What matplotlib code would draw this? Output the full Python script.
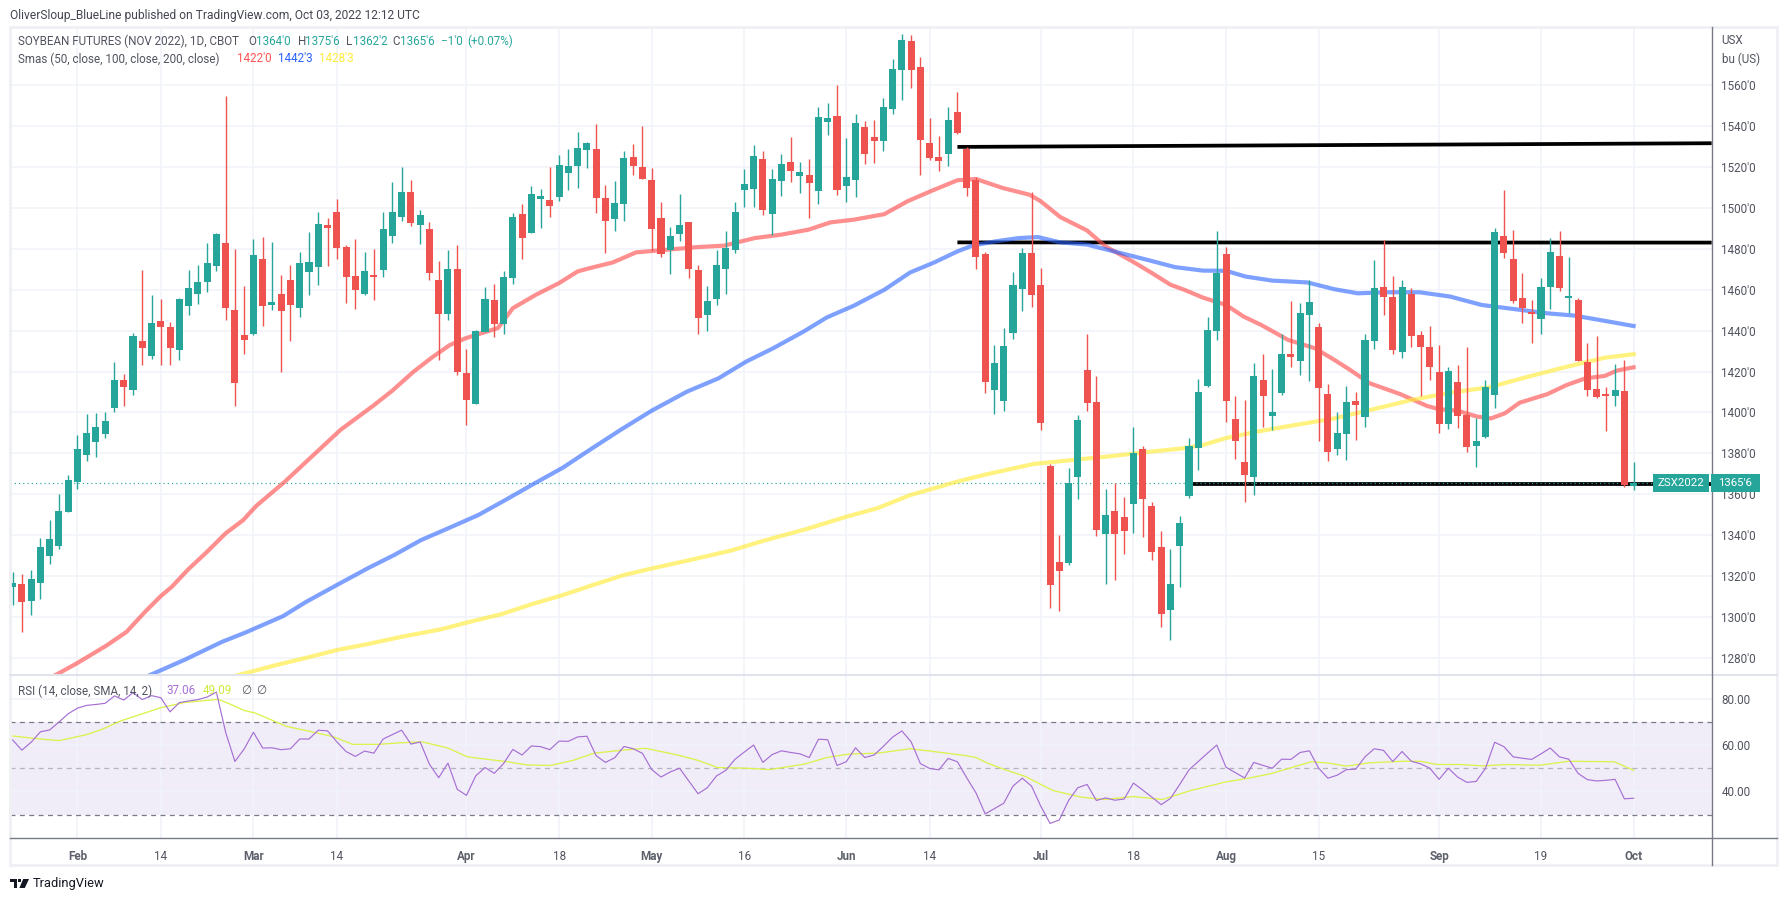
import matplotlib
matplotlib.use("Agg")
import matplotlib.pyplot as plt
from matplotlib.patches import Rectangle, Polygon, Circle

W, H = 1787, 899
plt.rcParams['font.family'] = ['Roboto', 'DejaVu Sans']

opens = [1314.8,1316,1307.9,1316.7,1330,1334.7,1351.3,1366,1379.2,1385.6,1389.5,1402.2,1415.9,1411,1435,1427.7,1444.9,1441.9,1430.6,1452.2,
1458.1,1464,1471.8,1483,1450.3,1438,1438.5,1475.2,1452.7,1458.1,1465,1451.2,1468.9,1471.3,1491.9,1498.2,1481.1,1466.9,1458.1,1467.4,
1469.8,1486.5,1495.8,1508,1491.9,1489.9,1465,1448.3,1470.3,1419.4,1404.2,1439.5,1455.2,1443.4,1465.9,1497.3,1488,1504.6,1504.1,1505.6,
1517.3,1520.7,1528.6,1529,1505,1494.8,1502.1,1525.1,1520.2,1513.9,1495.3,1479.6,1487.5,1493.3,1469.8,1447.8,1455.6,1470.3,1479.6,1509,
1509.5,1524.2,1497.2,1513.4,1522.7,1515.8,1516.3,1508.5,1542.3,1545.2,1510.9,1513.9,1539.8,1534.9,1533,1548.6,1567.7,1581.9,1569.2,1532,
1525.1,1526.6,1547.2,1529,1513.9,1477.6,1411.1,1405.7,1439,1460.5,1478.1,1462.5,1373.8,1326.8,1326.4,1368.4,1420.8,1405.2,1340.5,1351.8,
1348.9,1355.2,1382.1,1354.2,1334.2,1303.3,1334.7,1359.1,1382.6,1413,1440,1477.6,1396.8,1375.8,1368.4,1415.9,1398.3,1409.6,1428.6,1425.2,
1447.7,1441.9,1409.1,1382.1,1389.5,1405.6,1397.8,1435,1461.4,1456.5,1429.6,1458,1437.9,1432,1419.8,1394.4,1415,1398.8,1383.6,1388,
1408.6,1486.4,1475.1,1456,1449.2,1445.8,1461.4,1476.6,1456,1455.1,1424.7,1411.5,1409,1408.1,1410.5,1364]
highs = [1322,1321,1323,1338.4,1347.4,1360.1,1369.4,1389,1399.3,1399.8,1400.3,1424.7,1418.9,1438.9,1469.8,1457.6,1455.6,1444.4,1456.1,1469.8,
1472.3,1483,1488,1555,1480.1,1462,1485,1486,1483.5,1467.4,1472.3,1478.6,1488.4,1498.2,1495.3,1504.6,1482,1485,1478.6,1480.1,
1498.2,1512.9,1520.3,1513.9,1499.2,1493.3,1474.2,1479.6,1482,1431.1,1440.4,1461.5,1463,1469.4,1497.7,1502.1,1511,1509.5,1520.3,1526.1,
1529,1537.4,1532.5,1541.3,1511.4,1513.4,1528.1,1531.5,1540.3,1519.8,1503.1,1490.9,1507,1493.3,1472.3,1462,1479.6,1488.9,1503.1,1519.3,
1531,1528.1,1519.3,1526.6,1534.9,1522.7,1524.2,1549.6,1551.6,1560.4,1534.4,1546.2,1542.8,1543.3,1554,1573.1,1584.9,1584.4,1574.1,1544.2,
1535.4,1549.6,1557,1530,1515.4,1478.6,1433.1,1441.4,1468.8,1480.6,1507.8,1470.8,1374.8,1340,1372.8,1398.8,1438.5,1417.9,1362.6,1365.5,
1358.7,1392.9,1383.6,1356.2,1342,1333.2,1349.4,1387.5,1416.4,1446.8,1488.8,1481,1408,1406.1,1424.2,1428.6,1421.3,1438.4,1454.6,1453.6,
1464.9,1443.8,1414,1400.3,1413,1410,1438.4,1474.6,1484.4,1466.8,1464.9,1460.9,1439.9,1442.3,1433,1422.3,1423.3,1432,1397.3,1415.9,
1490.3,1508.9,1489.3,1468.3,1455.1,1465.8,1485.4,1488.8,1476.1,1456,1434,1437.4,1412.5,1423.7,1425.7,1375.8]
lows = [1305.8,1292.7,1300.9,1308.9,1326,1333.2,1351.3,1362.6,1376.3,1378.2,1387.5,1400.3,1403.2,1408.6,1423.3,1426.2,1423.3,1423.3,1425.7,1447.8,
1453.2,1459.1,1469.4,1445.4,1403.2,1428.7,1438,1442.4,1450.3,1419.8,1435,1446.8,1457.6,1462.5,1471.8,1475.2,1453.7,1450.8,1457.6,1455.2,
1466.4,1483,1493.8,1491.4,1482.6,1465,1425.7,1445.4,1418.4,1393.9,1404.2,1439.5,1437,1438.4,1463,1475.2,1488,1490.4,1495.8,1503.6,
1509,1510,1519.8,1497.7,1478.2,1488.9,1493.8,1516.3,1514.4,1479.1,1476.2,1467.9,1484,1465.9,1438.5,1440,1452.7,1458.1,1478.2,1500.7,
1500.7,1496.8,1487,1506,1512.9,1507.5,1495.3,1502.1,1535.9,1506.5,1503.1,1505.6,1521.7,1522.2,1528.1,1546.2,1553,1558.9,1516.3,1523.7,
1518.3,1520.7,1536.4,1506,1470.3,1409.6,1399.3,1400.8,1436,1449.7,1451.7,1391.4,1304.3,1302.9,1325.4,1357.7,1400.8,1339.6,1316.1,1318,
1330.8,1341,1339.1,1327.8,1295,1288.7,1314.6,1358.2,1371.9,1412.5,1435.6,1395.4,1377.2,1356.2,1359.6,1392.9,1391.4,1408.6,1422.3,1418.4,
1415.4,1386,1376.3,1379.2,1376.7,1386.5,1392.9,1431.1,1447.7,1428.6,1426.7,1432,1408.1,1415.9,1390,1391.9,1392.4,1380.7,1373.3,1387.5,
1402.2,1475.6,1453.6,1443.8,1434,1438.4,1450.7,1459.5,1448.7,1425,1408.1,1407.1,1391,1403.2,1363.5,1362.2]
closes = [1316.4,1307.4,1318.5,1334.2,1338.1,1351.8,1367,1382.2,1390,1392.9,1395.9,1415.9,1412.5,1437.5,1431.6,1443.8,1441.9,1431.6,1455.6,1461,
1464,1473.3,1487.5,1451.2,1414.5,1435.5,1477.2,1452.2,1454.2,1449.8,1452.7,1473.3,1473.8,1492.4,1490.4,1480.6,1466.4,1460,1469.4,1466.4,
1489.9,1498.2,1508,1492.8,1496.8,1468.4,1448.3,1470.3,1419.8,1406.1,1439.9,1455.6,1443.4,1466.4,1495.8,1485.5,1507,1506,1501.2,1521.2,
1520.7,1529.6,1532,1505,1493.8,1502.6,1524.7,1520.7,1514.4,1489.9,1477.7,1486.5,1491.9,1470.3,1446.3,1454.7,1472.3,1480.6,1498.2,1511.9,
1525.6,1499.2,1514.4,1521.7,1518.3,1517.8,1512.4,1544.7,1544.2,1509,1515.4,1541.8,1526.6,1533,1549.6,1568.2,1582.4,1567.7,1533.5,1524.7,
1523.2,1543.3,1536.9,1510,1476.2,1415,1424.3,1432.6,1462.5,1478.1,1457.6,1394.9,1315.6,1322.4,1365.5,1396.3,1404.7,1342.5,1349.8,1340.5,
1342,1380.2,1357.7,1331.7,1301.4,1316.1,1345.9,1383.6,1410,1440.4,1468.3,1405.8,1386.1,1369.4,1417.9,1408.1,1400.3,1428.6,1427.2,1448.7,
1454.1,1412,1380.7,1390,1405.1,1403.7,1435.5,1460.9,1456.5,1430.6,1461.4,1437.4,1432,1422.3,1394.4,1420.3,1398.3,1383.1,1386.1,1412.5,
1488.4,1478.1,1454.6,1451.2,1448.2,1461.4,1478.6,1461,1457,1425.2,1411,1407.6,1408.1,1411,1364.5,1365.75]

sma50_x = [4.6,6.9,10.2,12.3,14.3,16,17.2,18.9,21,23,24.9,26.3,29.4,32.1,35.4,38.9,41,43.3,45.3,47.2,48.9,52.4,54,56.5,59,61,62.3,64.8,67.3,70.6,73.9,76.8,80.1,83,85.9,88.3,90.8,94.1,96.6,99.1,102,104,106.9,109.8,111,113.1,116,118,120.9,123,125,126.5,128.5,131,132.9,134.8,137.7,140.6,142.7,144.4,146.5,149.8,152.7,154,156,158.1,159.6,161.1,162.7,165.7,167.8,169.8,171.9,173.2,175]
sma50_y = [1271.5,1277.2,1286.2,1292.7,1302.5,1310.2,1314.8,1323,1331.9,1340.9,1347.4,1354.3,1366.2,1377.6,1391.5,1403.2,1410.7,1420,1427,1433,1436.3,1441.3,1451,1457.6,1463.3,1469,1470.6,1473.4,1478.3,1479.6,1480.9,1481.6,1485.3,1487,1489.4,1493,1494.3,1497,1503.3,1508.2,1513.6,1514.2,1509.8,1506.5,1503.3,1495.6,1489,1481.2,1473.9,1468.2,1462.5,1460,1456.2,1452.6,1446.9,1442.8,1435.5,1431.4,1425.7,1420.8,1414.3,1409,1403.2,1401.6,1400.9,1398,1397.1,1399.6,1404.8,1409,1413.5,1416.7,1417.9,1420.5,1422.1]
sma100_x = [14.8,18.5,22.6,25.1,29.2,31.7,35,38.3,41.2,44.1,47,50.3,53.2,56.5,59.4,62.3,65.6,69,72.8,76.2,79.2,82.1,85.4,87.9,90.8,94.1,96.9,99.5,102,103.6,106.1,108.6,110.7,113.1,116,118.9,122.2,125.5,128.5,131,133.1,136,139.8,142.7,145.2,148.5,151.9,155.2,158.6,161.9,165.7,168.6,171.9,175]
sma100_y = [1271.5,1278.9,1287.8,1292.3,1300.4,1307.4,1315.6,1323.7,1330.3,1337.6,1343.3,1349.9,1357.2,1365.7,1373,1381.7,1391.4,1400.9,1410.2,1416.7,1424.9,1431.4,1439.6,1446.5,1452.2,1460,1468.5,1473.4,1478.8,1481.6,1483.7,1485.3,1485.8,1483.2,1482.1,1478.8,1475,1471.1,1469.4,1469.3,1466.5,1464.5,1463.6,1460.3,1458.3,1458.8,1458.8,1456.7,1452.6,1450.7,1448.5,1447.4,1444.8,1442.3]
sma200_x = [24.3,28.4,31.7,35,38.3,42,46.2,49,52.8,56.1,59.4,62.3,66,69,73.1,77.5,81.1,85.7,90,93.3,96.9,102,104.8,110.2,114.5,118.1,122.8,126.4,128.5,131,134.3,138.5,142.7,146.9,151,155.2,159.4,163.6,167.8,171.9,175]
sma200_y = [1271.5,1276.4,1280,1283.8,1286.7,1290.3,1293.9,1297.2,1301.4,1306.3,1310.7,1315.1,1320.5,1323.7,1327.8,1332.4,1337.3,1343,1349,1353.1,1359.6,1366.2,1369.4,1374.8,1376.8,1378.4,1380.8,1382.5,1384.1,1387.5,1390.6,1393.9,1397.1,1401.6,1406.1,1409.7,1412.3,1417.5,1422.4,1426.8,1428.5]

rsi = [62.2,57.8,61.2,65.7,66.5,69.9,73.5,75.9,77.1,77.5,78,81.2,79.4,82.6,79.6,81.3,80.4,74.3,78.3,79,
79.6,80.7,82.8,65.5,52.9,58.3,65.5,58.7,58.8,58,58.4,62.6,62.6,66.4,66.1,61.4,57.2,55.1,57.4,56.5,
62.6,64.5,66.4,60.4,61.3,51.7,45.9,52.2,40.9,38.3,46.7,50.3,47.8,52,58.1,55.7,59.6,59.3,58,61.7,
61.6,63.5,63.8,55.4,52.5,54.5,59.4,58.4,56.4,49.4,46.2,48.4,50,44.5,39,41.6,46.7,49.1,53.9,57,
60,52.5,55.9,57.5,56.8,56.2,54.6,62.5,62.3,51.2,52.8,58.8,54.6,55.7,59.4,63.4,66.1,61.4,52,49.9,
49.3,54.2,52.8,45.9,39.4,30.3,32.6,34.9,42.3,45.7,42.3,33.6,26.2,27.7,36.1,41.6,43,36.1,37.2,36.2,
36.7,43.6,40.6,37.5,34.3,37,43,49.3,52.9,56.5,60,50.4,48.1,45.8,52.5,51.2,50,53.9,53.8,56.8,
57.5,50,45.7,47,49.4,49.6,54.9,58.4,57.7,52.9,57.2,53,51.9,50,45.2,50,46.2,43.9,44.3,49.9,
61.2,59.3,54.9,54.3,53.8,56.2,58.7,54.9,53.9,47.8,45.1,44.5,44.8,45.2,36.8,37.06]
rsi_ma_x = [0,3,5,8,9.8,11.6,13.8,16,18.5,22.2,23.4,25,26.2,29.6,32.1,34.6,36.7,39.5,42,44.2,47,49.1,53.2,55.6,58.1,60.6,62.8,65.9,68.3,71.7,73.9,76.1,79.2,81.7,85.4,87.9,90.3,93.4,96.9,99,102.8,104,105.2,107.1,109.3,112.3,115.4,117.9,121,124.1,127.2,131,133.4,135.9,140.2,142.1,144,146.4,150.1,152,153.8,156.3,158.8,161.3,164.9,168,172.9,175]
rsi_ma_y = [63.9,62.6,61.9,64.5,67,70.3,73.2,76.1,78.3,79.7,77.8,74.9,73.8,68,65.9,63.6,60.3,60.3,61,61.4,58.7,54.9,52.9,51.4,51.2,53.5,56.5,57.8,58.6,55.8,53.5,50.3,50,49.4,51.7,54.6,56.1,56.5,58.4,57.4,55.5,54.6,52.3,49.4,46.5,40.4,37.5,36.5,37.8,36.5,40.4,44.1,45.7,47.7,52.8,52.2,50.9,52.3,53,53,51.6,51.6,51,51.6,51.3,53,52.8,49.09]

level_top = [1529.9, 1531.7]
level_mid = [1483.2, 1483.1]
level_low = [1365.1, 1365.1]
level_top_x = [102, 183.43]
level_mid_x = [102, 183.43]
level_low_x = [127.4, 183.43]
last_price = 1365.75

time_ticks = [7,16,26,35,49,59,69,79,90,99,111,121,131,141,154,165,175]
time_labels = ['Feb','14','Mar','14','Apr','18','May','16','Jun','14','Jul','18','Aug','15','Sep','19','Oct']
month_labels = {'Feb','Mar','Apr','May','Jun','Jul','Aug','Sep','Oct'}
price_ticks = list(range(1280, 1561, 20))
rsi_ticks = [40, 60, 80]

GREEN, RED = '#26a69a', '#ef5350'
GRID = '#f0f3fa'
AXC = '#787b86'
TXT = '#50535e'

L, R, T, M, B, F = 9.6, 1711.7, 26.7, 675.0, 837.7, 865.0
fig = plt.figure(figsize=(W/100, H/100), dpi=100, facecolor='white')
ax = fig.add_axes([L/W, 1-M/H, (R-L)/W, (M-T)/H])
rx = fig.add_axes([L/W, 1-B/H, (R-L)/W, (B-M)/H], sharex=ax)

for a in (ax, rx):
    for s in a.spines.values():
        s.set_visible(False)
    a.yaxis.tick_right()
    a.set_axisbelow(True)
    a.grid(True, color=GRID, lw=1.1)
    a.tick_params(length=0, labelsize=8.4, labelcolor=TXT, pad=7)

ax.set_xlim(-0.324, 183.43)
ax.set_ylim(1271.6, 1588.7)
rx.set_ylim(20.04, 90.2)
ax.set_yticks(price_ticks)
ax.set_yticklabels([f"{p}'0" for p in price_ticks])
rx.set_yticks(rsi_ticks)
rx.set_yticklabels([f"{p:.2f}" for p in rsi_ticks])
ax.set_xticks(time_ticks)
ax.tick_params(labelbottom=False)
rx.set_xticks(time_ticks)
rx.set_xticklabels(time_labels)
rx.tick_params(axis='x', pad=9, labelsize=8.4)
for lb in rx.get_xticklabels():
    if lb.get_text() in month_labels:
        lb.set_fontweight('bold')
        lb.set_color('#5d606b')

# levels, moving averages, candles
ax.plot(level_top_x, level_top, color='black', lw=2.7, zorder=2, solid_capstyle='butt')
ax.plot(level_mid_x, level_mid, color='black', lw=2.7, zorder=2, solid_capstyle='butt')
ax.plot(level_low_x, level_low, color='black', lw=2.7, zorder=2, solid_capstyle='butt')
ax.axhline(last_price, color=GREEN, lw=0.85, ls=(0, (1, 2.6)), zorder=2.2)
ax.plot(sma50_x, sma50_y, color='#ff5252', alpha=0.65, lw=3.0, zorder=3)
ax.plot(sma100_x, sma100_y, color='#2962ff', alpha=0.6, lw=3.0, zorder=3)
ax.plot(sma200_x, sma200_y, color='#ffeb3b', alpha=0.65, lw=3.0, zorder=3)

idx = list(range(len(closes)))
cols = [GREEN if c >= o else RED for o, c in zip(opens, closes)]
ax.vlines(idx, lows, highs, colors=cols, lw=1.0, zorder=4)
ax.bar(idx, [abs(c-o) for o, c in zip(opens, closes)],
       bottom=[min(o, c) for o, c in zip(opens, closes)],
       width=0.76, color=cols, linewidth=0, zorder=5)

# RSI pane
rx.axhspan(30, 70, color='#7e57c2', alpha=0.1, lw=0, zorder=0.5)
for lev, col in ((70, AXC), (50, '#b2b5be'), (30, AXC)):
    rx.axhline(lev, color=col, lw=0.9, ls=(0, (4, 3.5)), zorder=1.5)
rx.plot(idx, rsi, color='#a66fd4', lw=0.85, zorder=3)
rx.plot(rsi_ma_x, rsi_ma_y, color='#dcf24d', lw=0.95, zorder=2.5)

# frame and separators
def fx(x): return x/W
def fy(y): return 1-y/H
fig.add_artist(Rectangle((fx(L), fy(F)), fx(1776.7-L), (F-T)/H, fill=False, ec='#eff0f4', lw=2, transform=fig.transFigure, zorder=1))
fig.add_artist(plt.Line2D([fx(L), fx(1776.7)], [fy(M), fy(M)], color='#e0e3eb', lw=1.4, transform=fig.transFigure))
fig.add_artist(plt.Line2D([fx(L), fx(1776.7)], [fy(B), fy(B)], color=AXC, lw=1, transform=fig.transFigure))
fig.add_artist(plt.Line2D([fx(R), fx(R)], [fy(T), fy(F)], color=AXC, lw=1, transform=fig.transFigure))

def t(x, y, s, color=TXT, size=8.35, **kw):
    return fig.text(fx(x), fy(y), s, color=color, size=size, va='center', ha=kw.pop('ha', 'left'), **kw)

t(9.6, 15, 'OliverSloup_BlueLine published on TradingView.com, Oct 03, 2022 12:12 UTC', color='#434651', size=8.65)
t(18, 41.7, 'SOYBEAN FUTURES (NOV 2022), 1D, CBOT')
for x, s, c in [(248.8,'O',TXT),(256.4,"1364'0",GREEN),(297.7,'H',TXT),(305.4,"1375'6",GREEN),(346,'L',TXT),(353,"1362'2",GREEN),
                (392,'C',TXT),(400,"1365'6",GREEN),(440.9,"\u22121'0",GREEN),(466.9,"(+0.07%)",GREEN)]:
    t(x, 41.7, s, color=c)
t(18, 59, 'Smas (50, close, 100, close, 200, close)')
t(236.5, 59, "1422'0", color='#ff5252')
t(277.8, 59, "1442'3", color='#2962ff')
t(318.8, 59, "1428'3", color='#ffeb3b')
t(18.4, 691, 'RSI (14, close, SMA, 14, 2)')
t(166.5, 691, '37.06', color='#a66fd4')
t(202.6, 691, '49.09', color='#cfe83a')
t(241, 691, '\u2205')
t(256, 691, '\u2205')
t(1721.5, 41, 'USX', size=8.4)
t(1721.5, 59, 'bu (US)', size=8.4)

# last price tags
fig.add_artist(Rectangle((fx(1653.3), fy(491.5)), (1709-1653.3)/W, 17.5/H, fc=GREEN, ec='none', transform=fig.transFigure, zorder=6))
fig.add_artist(Rectangle((fx(1710.5), fy(491.5)), (1760-1710.5)/W, 17.5/H, fc=GREEN, ec='none', transform=fig.transFigure, zorder=6))
t(1681, 482.7, 'ZSX2022', color='white', size=8.2, ha='center', zorder=7)
t(1735, 482.7, "1365'6", color='white', size=8.2, ha='center', zorder=7)

# logo
fig.add_artist(Polygon([(fx(10.3),fy(879)),(fx(17),fy(879)),(fx(17),fy(888)),(fx(13.6),fy(888)),(fx(13.6),fy(882.2)),(fx(10.3),fy(882.2))], fc='#131722', ec='none', transform=fig.transFigure))
fig.add_artist(Polygon([(fx(23.2),fy(879)),(fx(29),fy(879)),(fx(24.8),fy(888)),(fx(19.4),fy(888))], fc='#131722', ec='none', transform=fig.transFigure))
fig.add_artist(Rectangle((fx(18),fy(882.3)), 3/W, 3.3/H, fc='#131722', ec='none', transform=fig.transFigure))
t(33, 884, 'TradingView', color='#131722', size=9.3)

fig.savefig('out.png', dpi=100, facecolor='white')
